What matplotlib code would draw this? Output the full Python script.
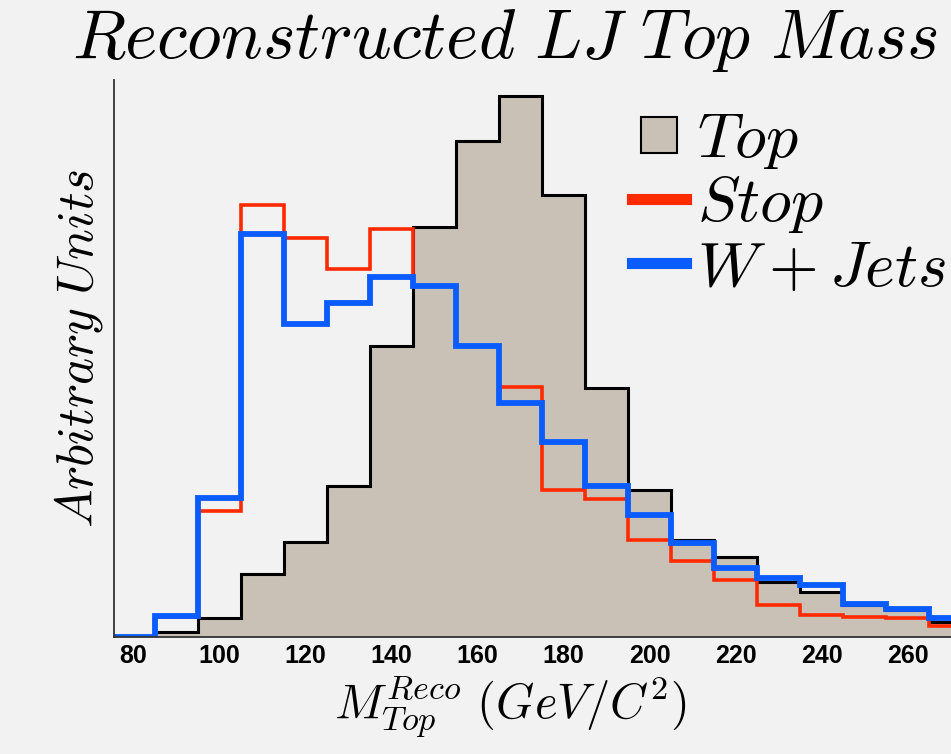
import matplotlib
matplotlib.use("Agg")
import matplotlib.pyplot as plt
from matplotlib.lines import Line2D
import numpy as np

# bin edges (GeV/c^2), width 10
edges = np.arange(75, 285, 10)

# heights, arbitrary units
top = [0, 5, 19, 63, 95, 151, 291, 410, 496, 541,
       442, 249, 147, 97, 80, 55, 45, 32, 27, 15]
stop = [0, 20, 126, 432, 399, 368, 408, 351, 291, 250,
        147, 138, 97, 76, 57, 32, 22, 20, 19, 11]
wjets = [0, 21, 139, 403, 313, 334, 360, 351, 291, 234,
         195, 151, 122, 94, 69, 59, 52, 33, 28, 19]

tick_vals = [80, 100, 120, 140, 160, 180, 200, 220, 240, 260]

bg = "#f2f2f2"
fill_col = "#c9c0b6"
red = "#ff2a00"
blue = "#0a5cff"

plt.rcParams["mathtext.fontset"] = "cm"

fig = plt.figure(figsize=(9.51, 7.54), dpi=100, facecolor=bg)
ax = fig.add_axes([114/951, 117/754, 837/951, 557/754], facecolor=bg)

ax.stairs(top, edges, fill=True, color=fill_col)
ax.stairs(top, edges, color="black", lw=2.2)
ax.stairs(stop, edges, color=red, lw=2.6)
ax.stairs(wjets, edges, color=blue, lw=4.2)

ax.set_xlim(75.5, 270)
ax.set_ylim(0, 557)

for s in ["top", "right"]:
    ax.spines[s].set_visible(False)
for s in ["left", "bottom"]:
    ax.spines[s].set_color("#333333")
    ax.spines[s].set_linewidth(1.3)

ax.set_yticks([])
ax.set_xticks(tick_vals)
ax.set_xticklabels([str(v) for v in tick_vals], fontfamily="Liberation Sans",
                   fontweight="bold", fontsize=18)
ax.tick_params(axis="x", length=0, pad=5)

ax.set_xlabel(r"$M_{Top}^{Reco}\ (GeV/C^{2})$", fontsize=35)
ax.xaxis.set_label_coords((510-114)/837, -0.065)
ax.set_ylabel(r"$Arbitrary\ Units$", fontsize=37)
ax.yaxis.set_label_coords(-0.011, 0.519)

fig.text(72/951, 1-58/754, r"$Reconstructed\ LJ\ Top\ Mass$",
         fontsize=50, ha="left", va="baseline")

handles = [
    Line2D([], [], marker="s", markersize=26, markerfacecolor=fill_col,
           markeredgecolor="black", markeredgewidth=1.5, linestyle="none"),
    Line2D([], [], color=red, lw=8),
    Line2D([], [], color=blue, lw=8),
]
ax.legend(handles, [r"$Top$", r"$Stop$", r"$W+Jets$"], loc="upper left",
          bbox_to_anchor=((632-114)/837, (637-108)/557), frameon=False,
          fontsize=46, handlelength=0.85, handletextpad=0.17,
          labelspacing=0.02, borderpad=0, borderaxespad=0)

fig.savefig("out.png", dpi=100, facecolor=bg)
